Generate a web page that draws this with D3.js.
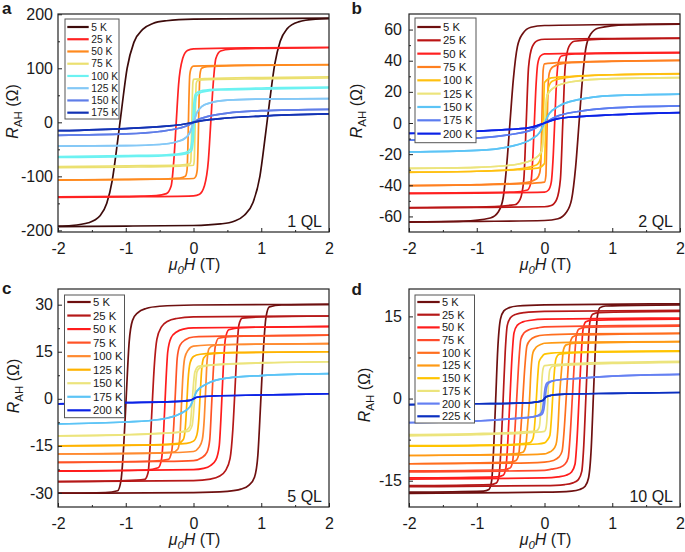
<!DOCTYPE html>
<html><head><meta charset="utf-8">
<script src="https://cdn.jsdelivr.net/npm/d3@7"></script>
<style>
body{margin:0;background:#fff;}
svg text{font-family:"Liberation Sans",Arial,Helvetica,sans-serif;fill:#1a1a1a;}
</style></head><body>
<svg id="chart" width="685" height="552"></svg>
<script>
// ---------------- data ----------------
const fieldTicks = [-2, -1, 0, 1, 2];
const fieldMinor = [-1.5, -0.5, 0.5, 1.5];

// Panel a : 1 QL
const tempsA = ["5 K","25 K","50 K","75 K","100 K","125 K","150 K","175 K"];
const colorsA = ["#3d0b0b","#ff2222","#ff8a1e","#ebe070","#6cf2f2","#84c8f6","#5f7de8","#1232b4"];
const yTicksA = [-200,-100,0,100,200];
const yMinorA = [-150,-50,50,150];
// ascending field sweep (-2 T -> +2 T), [H (T), R_AH (Ohm)]
const sweepA = [
 [[-2,-193],[-1,-192],[0,-191],[0.4,-188],[0.6,-183],[0.75,-172],[0.88,-148],[0.98,-100],[1.06,-25],[1.12,35],[1.2,108],[1.28,150],[1.38,173],[1.55,186],[1.8,191],[2,192]],
 [[-2,-139],[-1,-138],[0,-136],[0.09,-133],[0.16,-118],[0.22,-70],[0.255,0],[0.29,70],[0.33,118],[0.4,132],[0.55,135.5],[1,137],[2,138]],
 [[-2,-107],[-1,-106],[0,-104],[0.03,-101],[0.055,-88],[0.07,-30],[0.08,30],[0.095,88],[0.12,100],[0.2,103],[0.6,105],[2,106.5]],
 [[-2,-84],[-1,-83],[-0.2,-81],[0,-79.5],[0.01,-72],[0.02,-30],[0.03,30],[0.04,72],[0.055,77],[0.2,79],[1,80.5],[2,82]],
 [[-2,-65],[-1,-63.5],[-0.3,-61],[-0.1,-58],[-0.03,-53],[-0.005,-35],[0.01,0],[0.025,35],[0.05,50],[0.12,56],[0.4,60],[1,61.5],[2,63.5]],
 [[-2,-44],[-1,-43],[-0.5,-41],[-0.25,-36],[-0.12,-29],[-0.05,-18],[0,0],[0.05,18],[0.12,29],[0.25,36],[0.5,41],[1,43],[2,44]],
 [[-2,-24],[-1,-21.5],[-0.5,-17],[-0.2,-10.5],[-0.07,-5],[0,0],[0.07,5],[0.2,10.5],[0.5,17],[1,21.5],[2,24]],
 [[-2,-15.5],[-1,-11.5],[-0.4,-7],[-0.15,-3.5],[0,0],[0.15,3.5],[0.4,7],[1,11.5],[2,15.5]]
];

// Panel b : 2 QL
const tempsB = ["5 K","25 K","50 K","75 K","100 K","125 K","150 K","175 K","200 K"];
const colorsB = ["#6e1010","#bb1515","#ff2020","#ff8020","#ffc010","#ece47c","#5cc4f6","#5b7cf0","#0b22e6"];
const yTicksB = [-60,-40,-20,0,20,40,60];
const yMinorB = [-50,-30,-10,10,30,50];
const sweepB = [
 [[-2,-63.6],[-1,-63.2],[0,-62.6],[0.2,-61.5],[0.32,-57.5],[0.4,-49],[0.46,-28],[0.51,0],[0.56,28],[0.61,48],[0.68,57],[0.8,61],[1.2,63],[2,63.5]],
 [[-2,-54.6],[-1,-54.2],[0,-53.8],[0.1,-53],[0.18,-49],[0.235,-36],[0.27,0],[0.305,36],[0.36,49],[0.44,52.5],[1,54],[2,54.4]],
 [[-2,-45.3],[-1,-45],[0,-44.4],[0.06,-43],[0.1,-38],[0.13,-20],[0.15,0],[0.17,20],[0.2,38],[0.25,43],[0.45,44.3],[2,45]],
 [[-2,-40.2],[-1,-39.7],[-0.3,-39],[0,-38],[0.02,-34],[0.032,-15],[0.04,0],[0.05,20],[0.07,32],[0.12,36],[0.3,38.5],[1,39.6],[2,40.2]],
 [[-2,-31.7],[-1,-31],[-0.4,-30],[-0.1,-29],[0,-26],[0.012,-12],[0.022,0],[0.035,12],[0.06,23],[0.12,27],[0.4,29.6],[1,31],[2,31.6]],
 [[-2,-29.1],[-1,-28.5],[-0.4,-26.5],[-0.15,-23],[-0.04,-18],[0,0],[0.04,18],[0.15,23],[0.4,26.5],[1,28.5],[2,29.1]],
 [[-2,-18.6],[-1,-17.6],[-0.5,-15],[-0.2,-10.5],[-0.07,-6],[0,0],[0.07,6],[0.2,10.5],[0.5,15],[1,17.6],[2,18.6]],
 [[-2,-11],[-1,-9.7],[-0.5,-7.4],[-0.2,-4.6],[0,0],[0.2,4.6],[0.5,7.4],[1,9.7],[2,11]],
 [[-2,-6.7],[-1,-5.3],[-0.5,-4.1],[-0.2,-2.8],[0,0],[0.2,2.8],[0.5,4.1],[1,5.3],[2,6.7]]
];

// Panel c : 5 QL
const tempsC = ["5 K","25 K","50 K","75 K","100 K","125 K","150 K","175 K","200 K"];
const colorsC = ["#6e1010","#b51818","#ff1c1c","#ff5326","#ff8a30","#ffb300","#ece47c","#5cc4f6","#0b22e6"];
const yTicksC = [-30,-15,0,15,30];
const yMinorC = [-22.5,-7.5,7.5,22.5];
const sweepC = [
 [[-2,-30.1],[0,-29.9],[0.5,-29.5],[0.7,-28.8],[0.82,-27.5],[0.9,-25],[0.95,-18],[0.99,-2],[1.03,15],[1.07,26],[1.12,29.3],[1.3,29.9],[2,30.1]],
 [[-2,-26.4],[0,-26.1],[0.25,-25.6],[0.38,-24.7],[0.47,-23],[0.54,-19],[0.58,-10],[0.61,2],[0.64,15],[0.67,23.5],[0.72,25.7],[1,26.1],[2,26.4]],
 [[-2,-23],[0,-22.6],[0.15,-22.2],[0.25,-21.3],[0.33,-19.5],[0.38,-15],[0.41,-4],[0.44,10],[0.47,19],[0.52,22],[0.7,22.7],[2,23.1]],
 [[-2,-20.3],[-0.5,-20],[0,-19.7],[0.12,-18.8],[0.2,-17],[0.24,-13],[0.265,-3],[0.29,8],[0.32,16.5],[0.37,19.3],[0.6,19.9],[2,20.3]],
 [[-2,-17.6],[-0.5,-17.3],[0,-16.8],[0.08,-15.5],[0.13,-13],[0.16,-6],[0.18,3],[0.2,12],[0.23,16],[0.3,17],[0.6,17.3],[2,17.6]],
 [[-2,-15],[-0.5,-14.7],[-0.1,-14.2],[0,-13.5],[0.05,-11.5],[0.08,-6],[0.1,2],[0.12,9],[0.15,13],[0.22,14.2],[0.6,14.7],[2,15]],
 [[-2,-11.8],[-1,-11.4],[-0.3,-10.8],[-0.08,-10.4],[-0.02,-8.5],[0.01,-2],[0.03,4],[0.05,8.5],[0.09,9.8],[0.2,10.6],[0.6,11.2],[1,11.5],[2,11.8]],
 [[-2,-8],[-1,-7.4],[-0.5,-6.6],[-0.2,-4.8],[-0.05,-2.5],[0,0],[0.05,2.5],[0.2,4.8],[0.5,6.6],[1,7.4],[2,8]],
 [[-2,-1.6],[-1,-1.2],[-0.3,-0.9],[-0.05,-0.5],[0,0],[0.05,0.5],[0.3,0.9],[1,1.2],[2,1.6]]
];

// Panel d : 10 QL
const tempsD = ["5 K","25 K","50 K","75 K","100 K","125 K","150 K","175 K","200 K","225 K"];
const colorsD = ["#6e1010","#b51818","#ff1c1c","#ff4a2a","#ff6e1e","#ff9a14","#ffc400","#ece47c","#6580f2","#0b2fc0"];
const yTicksD = [-15,0,15];
const yMinorD = [-7.5,7.5];
const sweepD = [
 [[-2,-17.3],[0,-17.1],[0.4,-16.9],[0.52,-16.6],[0.6,-16],[0.65,-14.5],[0.69,-9],[0.72,0],[0.75,9],[0.78,15],[0.82,16.6],[0.9,16.9],[2,17.1]],
 [[-2,-16.1],[0,-15.9],[0.3,-15.7],[0.42,-15.4],[0.5,-14.8],[0.55,-13.3],[0.58,-8.5],[0.61,0],[0.64,8.5],[0.67,14],[0.71,15.4],[0.8,15.7],[2,15.9]],
 [[-2,-14.7],[0,-14.5],[0.2,-14.3],[0.32,-14],[0.4,-13.4],[0.45,-12],[0.48,-7.5],[0.51,0],[0.54,7.5],[0.57,12.7],[0.61,14],[0.7,14.3],[2,14.5]],
 [[-2,-13.4],[0,-13.1],[0.1,-12.9],[0.22,-12.6],[0.3,-12],[0.35,-10.8],[0.38,-6.5],[0.41,0],[0.44,6.5],[0.47,11.5],[0.51,12.7],[0.6,13],[2,13.2]],
 [[-2,-11.9],[-0.5,-11.8],[0,-11.6],[0.13,-11.3],[0.21,-10.7],[0.26,-9.6],[0.29,-5.8],[0.32,0],[0.35,5.8],[0.38,10.2],[0.42,11.3],[0.5,11.6],[2,11.9]],
 [[-2,-10.4],[-0.5,-10.3],[0,-10.1],[0.05,-9.9],[0.12,-9.4],[0.17,-8.4],[0.2,-5],[0.22,0],[0.25,5],[0.28,8.9],[0.32,9.8],[0.45,10.1],[2,10.4]],
 [[-2,-8.7],[-0.5,-8.5],[-0.1,-8.3],[0,-8.1],[0.04,-7.6],[0.08,-6.7],[0.1,-4],[0.12,0],[0.14,4],[0.17,7.3],[0.22,8.1],[0.5,8.4],[2,8.6]],
 [[-2,-6.8],[-1,-6.6],[-0.3,-6.3],[0,-6],[0.02,-5.5],[0.04,-3],[0.05,0],[0.06,3],[0.08,5.3],[0.12,5.9],[0.5,6.2],[1,6.4],[2,6.6]],
 [[-2,-4.4],[-1,-4.1],[-0.5,-3.7],[-0.15,-3.3],[-0.04,-2.9],[-0.01,-2],[0.01,0],[0.03,2],[0.06,2.8],[0.15,3.3],[0.5,3.7],[1,4.1],[2,4.4]],
 [[-2,-1.1],[-1,-0.95],[-0.3,-0.8],[-0.1,-0.6],[-0.02,-0.3],[0,0],[0.02,0.3],[0.1,0.6],[0.3,0.8],[1,0.95],[2,1.1]]
];

// ---------------- layout ----------------
const panels = [
 {letter:"a", label:"1 QL", temps:tempsA, colors:colorsA, sweeps:sweepA, yTicks:yTicksA, yMinor:yMinorA, yDomain:[-203,200.5],
  box:[58,14,329,232], yPad:5, letterPos:[2,14], yTitle:[18,111.5], xTitleY:269.5,
  leg:{x:65,y:19,w:54,h:100,row0:27,step:12.24,lx0:67.3,lx1:88.7,tx:91.3,fs:10.3}},
 {letter:"b", label:"2 QL", temps:tempsB, colors:colorsB, sweeps:sweepB, yTicks:yTicksB, yMinor:yMinorB, yDomain:[-70,70],
  box:[409,14,680,232], yPad:7, letterPos:[351.5,14], yTitle:[362,111], xTitleY:269.5,
  leg:{x:415,y:18,w:61,h:124.7,row0:27,step:13.33,lx0:417.3,lx1:440.7,tx:443,fs:11.3}},
 {letter:"c", label:"5 QL", temps:tempsC, colors:colorsC, sweeps:sweepC, yTicks:yTicksC, yMinor:yMinorC, yDomain:[-34.5,35],
  box:[58,289,329,507], yPad:5, letterPos:[2,294.3], yTitle:[19,386], xTitleY:545,
  leg:{x:64.5,y:295,w:60,h:122.7,row0:302,step:13.54,lx0:67.3,lx1:90.7,tx:93,fs:11.3}},
 {letter:"d", label:"10 QL", temps:tempsD, colors:colorsD, sweeps:sweepD, yTicks:yTicksD, yMinor:yMinorD, yDomain:[-19.8,20],
  box:[409,289,680,507], yPad:7, letterPos:[351.5,295], yTitle:[370,395], xTitleY:545,
  leg:{x:415,y:295,w:59.5,h:128,row0:302,step:12.7,lx0:417.3,lx1:439.7,tx:442,fs:11}}
];

const svg = d3.select("#chart");

panels.forEach((p, pi) => {
  const [x0,y0,x1,y1] = p.box;
  const x = d3.scaleLinear().domain([-2,2]).range([x0,x1]);
  const y = d3.scaleLinear().domain(p.yDomain).range([y1,y0]);
  const g = svg.append("g");

  const clipId = "clip"+pi;
  g.append("clipPath").attr("id",clipId).append("rect")
    .attr("x",x0).attr("y",y0).attr("width",x1-x0).attr("height",y1-y0);

  const line = d3.line().x(d=>x(d[0])).y(d=>y(d[1])).curve(d3.curveMonotoneX);
  const curves = g.append("g").attr("clip-path",`url(#${clipId})`);
  p.sweeps.forEach((asc, i) => {
    // descending sweep: point reflection of the ascending sweep
    const desc = asc.map(d => [-d[0], -d[1]]).reverse();
    [asc, desc].forEach(branch => {
      curves.append("path").attr("d", line(branch))
        .attr("fill","none").attr("stroke",p.colors[i])
        .attr("stroke-width",1.7).attr("stroke-linejoin","round");
    });
  });

  // axes (ticks inward)
  const fmt = d => String(d);
  g.append("g").attr("transform",`translate(0,${y1})`)
    .call(d3.axisBottom(x).tickValues(fieldTicks).tickSize(-4).tickPadding(10.5).tickFormat(fmt));
  g.append("g").attr("transform",`translate(0,${y1})`)
    .call(d3.axisBottom(x).tickValues(fieldMinor).tickSize(-2).tickFormat(""));
  g.append("g").attr("transform",`translate(${x0},0)`)
    .call(d3.axisLeft(y).tickValues(p.yTicks).tickSize(-4).tickPadding(p.yPad).tickFormat(fmt));
  g.append("g").attr("transform",`translate(${x0},0)`)
    .call(d3.axisLeft(y).tickValues(p.yMinor).tickSize(-2).tickFormat(""));
  g.selectAll(".domain").remove();
  g.selectAll(".tick line").attr("stroke","#222").attr("stroke-width",1);
  g.selectAll(".tick text").attr("font-size",16).attr("fill","#1a1a1a")
    .attr("font-family","'Liberation Sans',Arial,sans-serif");

  // frame
  g.append("rect").attr("x",x0).attr("y",y0).attr("width",x1-x0).attr("height",y1-y0)
    .attr("fill","none").attr("stroke","#222").attr("stroke-width",1.2);

  // legend
  const L = p.leg;
  const lg = g.append("g");
  lg.append("rect").attr("x",L.x).attr("y",L.y).attr("width",L.w).attr("height",L.h)
    .attr("fill","#fff").attr("stroke","#555").attr("stroke-width",1);
  p.temps.forEach((t,i) => {
    const yy = L.row0 + i*L.step;
    lg.append("line").attr("x1",L.lx0).attr("x2",L.lx1).attr("y1",yy).attr("y2",yy)
      .attr("stroke",p.colors[i]).attr("stroke-width",2.2);
    lg.append("text").attr("x",L.tx).attr("y",yy).attr("dy","0.36em")
      .attr("font-size",L.fs).text(t);
  });

  // thickness label
  g.append("text").attr("x",x1-7).attr("y",y1-5).attr("text-anchor","end")
    .attr("font-size",16).text(p.label);

  // panel letter
  g.append("text").attr("x",p.letterPos[0]).attr("y",p.letterPos[1])
    .attr("font-size",17).attr("font-weight","bold").text(p.letter);

  // y title
  const yt = g.append("text").attr("transform",`translate(${p.yTitle[0]},${p.yTitle[1]}) rotate(-90)`)
    .attr("text-anchor","middle").attr("font-size",16);
  yt.append("tspan").attr("font-style","italic").text("R");
  yt.append("tspan").attr("font-size",11.5).attr("dy",4).text("AH");
  yt.append("tspan").attr("dy",-4).text(" (Ω)");

  // x title
  const xt = g.append("text").attr("x",(x0+x1)/2+1).attr("y",p.xTitleY)
    .attr("text-anchor","middle").attr("font-size",16);
  xt.append("tspan").attr("font-style","italic").text("μ");
  xt.append("tspan").attr("font-style","italic").attr("font-size",11.5).attr("dy",4).text("0");
  xt.append("tspan").attr("font-style","italic").attr("dy",-4).text("H");
  xt.append("tspan").text(" (T)");
});
</script>
</body></html>
